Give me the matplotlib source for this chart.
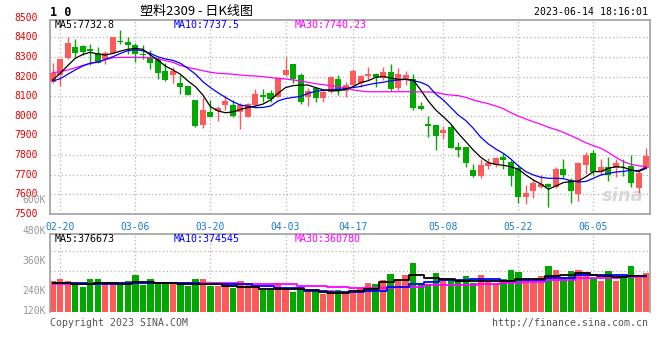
"""Sina-style daily K-line chart for 塑料2309 with volume panel."""

import matplotlib

matplotlib.use("Agg")
import matplotlib.pyplot as plt

W, H = 660, 360

DATES = [
    "02-17", "02-20", "02-21", "02-22", "02-23", "02-24",
    "02-27", "02-28", "03-01", "03-02", "03-03",
    "03-06", "03-07", "03-08", "03-09", "03-10",
    "03-13", "03-14", "03-15", "03-16", "03-17",
    "03-20", "03-21", "03-22", "03-23", "03-24",
    "03-27", "03-28", "03-29", "03-30", "03-31",
    "04-03", "04-04", "04-06", "04-07",
    "04-10", "04-11", "04-12", "04-13", "04-14",
    "04-17", "04-18", "04-19", "04-20", "04-21",
    "04-24", "04-25", "04-26", "04-27", "04-28",
    "05-04", "05-05",
    "05-08", "05-09", "05-10", "05-11", "05-12",
    "05-15", "05-16", "05-17", "05-18", "05-19",
    "05-22", "05-23", "05-24", "05-25", "05-26",
    "05-29", "05-30", "05-31", "06-01", "06-02",
    "06-05", "06-06", "06-07", "06-08", "06-09",
    "06-12", "06-13", "06-14",
]
TICK_LABELS = ["02-20", "03-06", "03-20", "04-03", "04-17", "05-08", "05-22", "06-05"]

OPEN = [8174, 8208, 8293, 8352, 8356, 8339, 8318, 8288, 8318, 8383,
        8378, 8361, 8315, 8293, 8288, 8230, 8208, 8169, 8152, 8081,
        7953, 8020, 8026, 8055, 8055, 8021, 7996, 8055, 8104, 8115,
        8098, 8208, 8264, 8208, 8098, 8144, 8089, 8123, 8186, 8128,
        8157, 8166, 8203, 8213, 8191, 8225, 8140, 8183, 8186, 8050,
        7957, 7953, 7911, 7942, 7843, 7843, 7724, 7695, 7746, 7750,
        7789, 7763, 7733, 7588, 7619, 7636, 7651, 7639, 7731, 7673,
        7600, 7750, 7813, 7716, 7741, 7733, 7746, 7745, 7631, 7733]
HIGH = [8268, 8290, 8400, 8390, 8362, 8366, 8349, 8330, 8402, 8437,
        8400, 8369, 8361, 8335, 8301, 8271, 8251, 8208, 8152, 8081,
        8094, 8081, 8050, 8106, 8081, 8064, 8064, 8135, 8135, 8132,
        8196, 8302, 8264, 8217, 8140, 8149, 8132, 8203, 8208, 8174,
        8237, 8208, 8251, 8217, 8247, 8264, 8242, 8230, 8213, 8072,
        7999, 7953, 7948, 7953, 7869, 7843, 7755, 7778, 7784, 7792,
        7813, 7775, 7750, 7648, 7677, 7699, 7656, 7741, 7782, 7682,
        7767, 7814, 7826, 7778, 7792, 7778, 7778, 7801, 7719, 7836]
LOW = [8166, 8154, 8290, 8298, 8310, 8259, 8268, 8263, 8318, 8366,
       8313, 8276, 8288, 8237, 8189, 8178, 8166, 8111, 8104, 7945,
       7937, 7992, 7976, 8030, 7996, 7932, 7996, 8050, 8072, 8072,
       8094, 8203, 8169, 8060, 8050, 8072, 8072, 8115, 8106, 8098,
       8149, 8149, 8183, 8149, 8183, 8127, 8132, 8157, 8030, 8030,
       7894, 7826, 7880, 7835, 7789, 7741, 7690, 7682, 7728, 7738,
       7728, 7644, 7554, 7549, 7580, 7631, 7534, 7631, 7682, 7554,
       7566, 7702, 7700, 7699, 7668, 7687, 7695, 7639, 7605, 7728]
CLOSE = [8220, 8288, 8373, 8322, 8327, 8330, 8271, 8318, 8400, 8376,
         8361, 8313, 8308, 8271, 8220, 8183, 8230, 8149, 8106, 7948,
         8030, 7996, 8038, 8076, 7999, 8055, 8058, 8111, 8098, 8086,
         8191, 8234, 8186, 8072, 8127, 8093, 8123, 8200, 8127, 8157,
         8230, 8203, 8212, 8196, 8225, 8135, 8213, 8208, 8038, 8037,
         7950, 7897, 7928, 7838, 7826, 7758, 7695, 7750, 7758, 7787,
         7775, 7695, 7588, 7605, 7660, 7653, 7639, 7731, 7699, 7619,
         7762, 7801, 7716, 7741, 7699, 7758, 7745, 7657, 7711, 7795]

MA5 = [8183, 8217, 8256, 8293, 8313, 8324, 8315, 8310, 8318, 8330,
       8339, 8344, 8339, 8310, 8285, 8254, 8234, 8212, 8178, 8149,
       8106, 8047, 8025, 8016, 8020, 8033, 8042, 8050, 8060, 8081,
       8115, 8144, 8154, 8157, 8157, 8144, 8133, 8128, 8128, 8135,
       8149, 8169, 8179, 8196, 8201, 8193, 8186, 8186, 8183, 8132,
       8076, 8030, 7996, 7959, 7911, 7869, 7826, 7789, 7762, 7753,
       7748, 7741, 7728, 7699, 7673, 7653, 7626, 7643, 7660, 7665,
       7668, 7690, 7716, 7716, 7733, 7741, 7738, 7724, 7716, 7733]
MA10 = [8178, 8189, 8212, 8234, 8254, 8268, 8274, 8288, 8301, 8318,
        8332, 8337, 8332, 8318, 8301, 8290, 8283, 8268, 8242, 8213,
        8174, 8144, 8118, 8094, 8072, 8055, 8049, 8042, 8043, 8050,
        8076, 8088, 8094, 8099, 8115, 8125, 8130, 8133, 8135, 8139,
        8144, 8150, 8159, 8166, 8171, 8179, 8183, 8186, 8179, 8171,
        8154, 8111, 8081, 8043, 8004, 7976, 7937, 7891, 7857, 7831,
        7809, 7780, 7745, 7716, 7699, 7687, 7682, 7682, 7680, 7670,
        7663, 7666, 7682, 7699, 7707, 7714, 7717, 7723, 7721, 7737]
MA30 = [8220, 8225, 8234, 8245, 8257, 8268, 8274, 8286, 8296, 8298,
        8298, 8298, 8298, 8296, 8291, 8281, 8273, 8257, 8247, 8239,
        8230, 8222, 8217, 8215, 8212, 8208, 8205, 8203, 8200, 8195,
        8191, 8188, 8183, 8178, 8171, 8164, 8159, 8154, 8149, 8142,
        8132, 8127, 8123, 8123, 8123, 8123, 8123, 8123, 8123, 8122,
        8122, 8120, 8111, 8106, 8103, 8094, 8081, 8071, 8062, 8050,
        8037, 8016, 7999, 7984, 7970, 7957, 7942, 7930, 7916, 7899,
        7882, 7863, 7848, 7835, 7813, 7789, 7767, 7753, 7746, 7740]

# volume in thousands of lots
VOLUME = [315, 336, 315, 280, 262, 346, 336, 297, 290, 301,
          325, 381, 280, 346, 308, 301, 301, 297, 266, 346,
          339, 266, 266, 284, 242, 315, 273, 249, 238, 238,
          297, 249, 203, 238, 210, 210, 186, 228, 228, 203,
          203, 249, 301, 290, 333, 389, 333, 378, 507, 297,
          284, 402, 350, 333, 333, 368, 297, 378, 308, 284,
          336, 431, 413, 333, 333, 368, 476, 431, 360, 420,
          431, 402, 354, 325, 420, 325, 354, 473, 354, 402]
VMA5 = [300, 300, 300, 291, 291, 291, 300, 300, 300, 291,
        291, 308, 308, 308, 300, 300, 300, 291, 291, 291,
        284, 284, 284, 263, 263, 255, 255, 255, 240, 240,
        240, 240, 240, 240, 225, 225, 200, 192, 192, 192,
        210, 210, 234, 234, 308, 308, 333, 333, 378, 378,
        350, 350, 343, 343, 325, 325, 325, 325, 318, 318,
        318, 318, 343, 343, 343, 343, 368, 368, 385, 385,
        402, 402, 385, 371, 371, 360, 360, 371, 371, 377]
VMA10 = [301, 301, 301, 301, 301, 291, 291, 291, 291, 301,
         301, 301, 301, 301, 301, 301, 301, 301, 301, 301,
         291, 291, 291, 291, 284, 284, 284, 263, 263, 263,
         249, 249, 249, 249, 220, 220, 220, 203, 203, 203,
         203, 203, 220, 220, 220, 256, 256, 256, 284, 284,
         308, 308, 333, 333, 333, 333, 336, 336, 336, 336,
         325, 325, 333, 333, 333, 333, 350, 350, 350, 350,
         378, 378, 378, 378, 378, 378, 378, 375, 375, 375]
VMA30 = [291, 291, 291, 291, 291, 291, 297, 297, 297, 297,
         297, 297, 297, 297, 297, 297, 297, 297, 297, 297,
         297, 297, 297, 297, 297, 291, 291, 291, 291, 284,
         284, 284, 284, 263, 263, 263, 263, 256, 256, 256,
         249, 249, 249, 249, 249, 249, 256, 256, 256, 256,
         273, 273, 273, 273, 273, 273, 273, 284, 284, 284,
         301, 301, 301, 308, 308, 308, 333, 333, 333, 333,
         350, 350, 350, 350, 350, 350, 360, 360, 360, 360]

PRICE_TICKS = [7500, 7600, 7700, 7800, 7900, 8000, 8100, 8200, 8300, 8400, 8500]
VOL_TICK_LABELS = ["600K", "480K", "360K", "240K", "120K"]

UP = "#ff5a5a"
DOWN = "#00a800"
BORDER = "#a0a0a0"
GRID = "#b4b4b4"
MONO = "DejaVu Sans Mono"


def fx(px):
    return px / W


def fy(py):
    return 1 - py / H


def style_panel(ax, ticks):
    for s in ax.spines.values():
        s.set_color(BORDER)
        s.set_linewidth(1.2)
    ax.set_xticks([])
    ax.set_yticks([])
    ax.set_xlim(-0.36, 79.53)
    for i in ticks:
        ax.axvline(i, color=GRID, lw=0.9, ls=(0, (1, 2)), zorder=0)


def main():
    n = len(CLOSE)
    x = list(range(n))
    ticks = [DATES.index(t) for t in TICK_LABELS]
    fig = plt.figure(figsize=(W / 100, H / 100), dpi=100)

    # price panel
    ax = fig.add_axes([fx(50), fy(214), fx(600), (214 - 19.5) / H])
    style_panel(ax, ticks)
    ax.set_ylim(7500, 8491)
    for p in PRICE_TICKS[1:-1]:
        ax.axhline(p, color=GRID, lw=0.9, ls=(0, (1, 2)), zorder=0)
    for i in x:
        c = UP if CLOSE[i] >= OPEN[i] else DOWN
        ax.vlines(i, LOW[i], HIGH[i], color=c, lw=1, zorder=2)
        lo, hi = min(OPEN[i], CLOSE[i]), max(OPEN[i], CLOSE[i])
        ax.bar(i, max(hi - lo, 2), bottom=lo, width=0.8, color=c, lw=0, zorder=3)
    ax.plot(x, MA30, color="#ff00ff", lw=0.9, zorder=4)
    ax.plot(x, MA10, color="#0000ff", lw=0.9, zorder=4)
    ax.plot(x, MA5, color="#000000", lw=0.9, zorder=5)
    for p in PRICE_TICKS:
        ax.text(-0.02, (p - 7500) / 991, str(p), transform=ax.transAxes, ha="right",
                va="center", color="#e60000", fontsize=7, family=MONO, clip_on=False)
    ax.text(fx(55), fy(24.5), "MA5:7732.8", transform=fig.transFigure,
            fontsize=7.2, family=MONO, color="black", va="center")
    ax.text(fx(174), fy(24.5), "MA10:7737.5", transform=fig.transFigure,
            fontsize=7.2, family=MONO, color="#0000ff", va="center")
    ax.text(fx(295), fy(24.5), "MA30:7740.23", transform=fig.transFigure,
            fontsize=7.2, family=MONO, color="#ff00ff", va="center")
    ax.text(0.955, 0.09, "sina", transform=ax.transAxes, ha="center", va="center",
            fontsize=13, fontstyle="italic", fontweight="bold", color="#d0d0d0",
            alpha=0.8, zorder=1)

    # date labels
    for i, lab in zip(ticks, TICK_LABELS):
        ax.text(i, -0.04, lab, transform=ax.get_xaxis_transform(), ha="center",
                va="top", color="#1a7ccc", fontsize=7, family=MONO, clip_on=False)

    # volume panel
    vx = fig.add_axes([fx(50), fy(311.5), fx(600), (311.5 - 234.3) / H])
    style_panel(vx, ticks)
    vx.spines["bottom"].set_visible(False)
    vx.set_ylim(0, 810)
    for f in (0.27, 0.53, 0.79):
        vx.axhline(810 * f, color=GRID, lw=0.9, ls=(0, (1, 2)), zorder=0)
    colors = [UP if CLOSE[i] >= OPEN[i] else DOWN for i in x]
    vx.bar(x, VOLUME, width=0.85, color=colors, lw=0, zorder=2)
    vx.plot(x, VMA30, color="#ff00ff", lw=1.3, drawstyle="steps-mid", zorder=3)
    vx.plot(x, VMA10, color="#0000ff", lw=1.3, drawstyle="steps-mid", zorder=4)
    vx.plot(x, VMA5, color="#000000", lw=1.3, drawstyle="steps-mid", zorder=5)
    vx.text(fx(55), fy(239), "MA5:376673", transform=fig.transFigure,
            fontsize=7.2, family=MONO, color="black", va="center")
    vx.text(fx(174), fy(239), "MA10:374545", transform=fig.transFigure,
            fontsize=7.2, family=MONO, color="#0000ff", va="center")
    vx.text(fx(295), fy(239), "MA30:360780", transform=fig.transFigure,
            fontsize=7.2, family=MONO, color="#ff00ff", va="center")
    for lab, py in zip(VOL_TICK_LABELS, [200, 231, 261, 291, 311]):
        fig.text(fx(46), fy(py), lab, ha="right", va="center", color="#999999",
                 fontsize=7, family=MONO)

    # header and footer
    fig.text(fx(50), fy(12), "1 0", fontsize=8.5, fontweight="bold", family=MONO, va="center")
    fig.text(fx(140), fy(12), "塑料2309 - 日K线图", fontsize=9.4, va="center",
             family=["Noto Sans CJK SC", "DejaVu Sans"])
    fig.text(fx(648), fy(12), "2023-06-14 18:16:01", ha="right", va="center",
             fontsize=7.1, family=MONO)
    fig.text(fx(50), fy(323), "Copyright 2023 SINA.COM", va="center", fontsize=7.1,
             family=MONO, color="#555555")
    fig.text(fx(648), fy(323), "http://finance.sina.com.cn", ha="right", va="center",
             fontsize=7.1, family=MONO, color="#555555")

    fig.savefig("out.png", dpi=100)


if __name__ == "__main__":
    main()
